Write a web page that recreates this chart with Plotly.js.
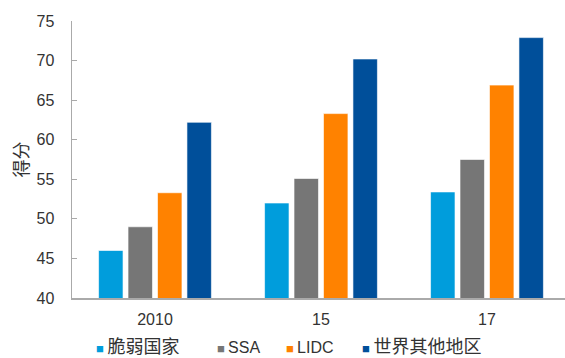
<!DOCTYPE html>
<html><head><meta charset="utf-8">
<script src="https://cdn.plot.ly/plotly-3.0.1.min.js"></script>
<style>html,body{margin:0;padding:0;background:#fff}#c{width:565px;height:358px}</style>
</head><body><div id="c"></div>
<script>
var categories = ["2010", "15", "17"];
var seriesNames = ["脆弱国家", "SSA", "LIDC", "世界其他地区"];
var fragile = [46.0, 52.0, 53.4];
var ssa = [49.0, 55.1, 57.5];
var lidc = [53.3, 63.3, 66.9];
var rest = [62.2, 70.2, 72.9];
var yTicks = [40, 45, 50, 55, 60, 65, 70, 75];

var colors = ["#009DDC", "#767676", "#FF8200", "#004F9A"];
var vals = [fragile, ssa, lidc, rest];
var font = "Liberation Sans, Arial, Noto Sans CJK SC, sans-serif";
var W = 565, H = 358, L = 72, T = 21, B = 298;
var traces = vals.map(function(v, i){
  return {type:"bar", x:categories, y:v, name:seriesNames[i], showlegend:false,
    marker:{color:colors[i], line:{color:"rgba(255,255,255,0.6)", width:1}}};
});
// legend entries drawn as text annotations (square glyph + series name)
var legendLeft = [94, 215, 284, 360];
var annotations = seriesNames.map(function(n, i){
  return {xref:"paper", yref:"paper", x:(legendLeft[i]-L)/(W-L), y:(H-347)/(H-T),
    xanchor:"left", yanchor:"middle", showarrow:false,
    text:'<span style="color:'+colors[i]+';font-size:13px">■</span>\u2009'+n,
    font:{size: /[A-Z]/.test(n) ? 16 : 18, color:"#333"}};
});
var layout = {
  width:W, height:H,
  margin:{l:L, r:0, t:T, b:0},
  paper_bgcolor:"#fff", plot_bgcolor:"#fff",
  font:{family:font, size:16, color:"#333"},
  barmode:"group", bargap:0.29, bargroupgap:0.17,
  showlegend:false,
  annotations:annotations,
  xaxis:{type:"category", range:[-0.5, 2.47], showline:true, linecolor:"#AAAAAA", linewidth:2,
    ticks:"", showgrid:false, zeroline:false, tickfont:{size:16}, ticklabelstandoff:6},
  yaxis:{domain:[(H-B)/(H-T), 1], range:[40,75], tickvals:yTicks, showline:true, linecolor:"#AAAAAA", linewidth:1.5,
    ticks:"inside", ticklen:5, tickcolor:"#AAAAAA", showgrid:false, zeroline:false,
    tickfont:{size:16}, ticklabelstandoff:13,
    title:{text:"得分", font:{size:18}, standoff:3}}
};
Plotly.newPlot("c", traces, layout, {displayModeBar:false, staticPlot:true});
</script></body></html>
